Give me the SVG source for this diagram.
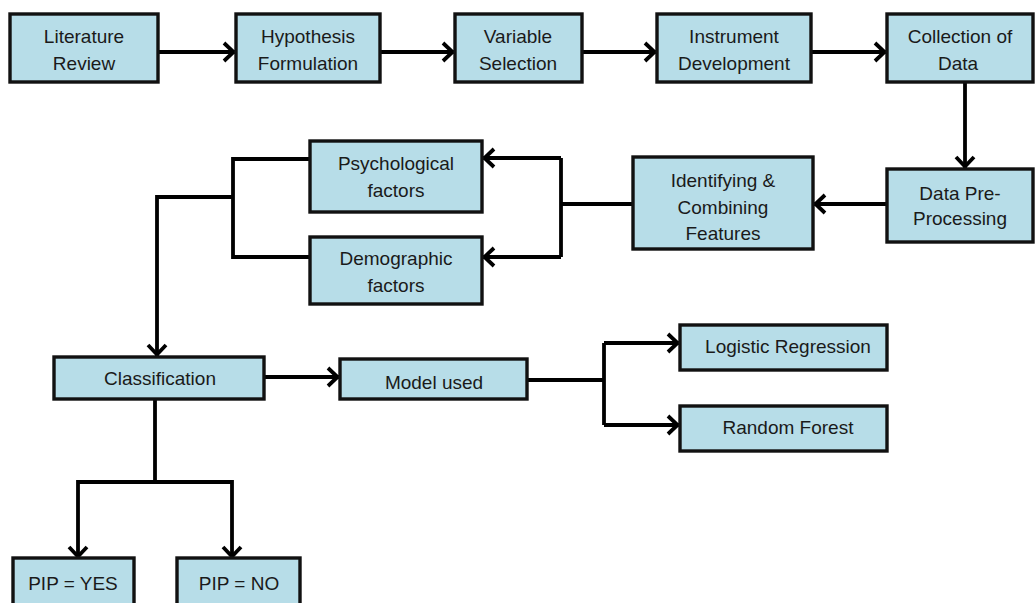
<svg xmlns="http://www.w3.org/2000/svg" width="1036" height="603" viewBox="0 0 1036 603">
<style>
.box{fill:#b7dde8;stroke:#111;stroke-width:3.4}
.t{font-family:"Liberation Sans",Arial,sans-serif;font-size:19px;fill:#1a1a1a;text-anchor:middle}
.c{fill:none;stroke:#000;stroke-width:3.8}
</style>
<defs>
<marker id="ah" markerUnits="userSpaceOnUse" markerWidth="26" markerHeight="26" viewBox="-15 -13 18 26" refX="0" refY="0" orient="auto">
<path d="M-11,-9 L-1.5,0 L-11,9" fill="none" stroke="#000" stroke-width="3.8" stroke-linejoin="miter"/>
</marker>
</defs>
<rect width="1036" height="603" fill="#fff"/>
<g id="connectors">
<path class="c" d="M158,52 H235" marker-end="url(#ah)"/>
<path class="c" d="M380,52 H454" marker-end="url(#ah)"/>
<path class="c" d="M582,52 H656" marker-end="url(#ah)"/>
<path class="c" d="M811,52 H886" marker-end="url(#ah)"/>
<path class="c" d="M965,82 V168" marker-end="url(#ah)"/>
<path class="c" d="M887,204 H814" marker-end="url(#ah)"/>
<path class="c" d="M633,204 H561"/>
<path class="c" d="M561,158 V257"/>
<path class="c" d="M561,158 H483" marker-end="url(#ah)"/>
<path class="c" d="M561,257 H483" marker-end="url(#ah)"/>
<path class="c" d="M310,159 H233 V257 H310"/>
<path class="c" d="M233,197 H157 V356" marker-end="url(#ah)"/>
<path class="c" d="M264,377 H339" marker-end="url(#ah)"/>
<path class="c" d="M527,380 H604"/>
<path class="c" d="M604,343 V425"/>
<path class="c" d="M604,343 H679" marker-end="url(#ah)"/>
<path class="c" d="M604,425 H679" marker-end="url(#ah)"/>
<path class="c" d="M155,399 V482"/>
<path class="c" d="M155,482 H78 V558" marker-end="url(#ah)"/>
<path class="c" d="M155,482 H232 V558" marker-end="url(#ah)"/>
</g>
<g id="n1"><rect class="box" x="10" y="14" width="148" height="68"/><text class="t" x="84" y="43">Literature</text><text class="t" x="84" y="70">Review</text></g>
<g id="n2"><rect class="box" x="236" y="14" width="144" height="68"/><text class="t" x="308" y="43">Hypothesis</text><text class="t" x="308" y="70">Formulation</text></g>
<g id="n3"><rect class="box" x="455" y="14" width="127" height="68"/><text class="t" x="518" y="43">Variable</text><text class="t" x="518" y="70">Selection</text></g>
<g id="n4"><rect class="box" x="657" y="14" width="154" height="68"/><text class="t" x="734" y="43">Instrument</text><text class="t" x="734" y="70">Development</text></g>
<g id="n5"><rect class="box" x="887" y="14" width="146" height="68"/><text class="t" x="960" y="43">Collection of</text><text class="t" x="958" y="70">Data</text></g>
<g id="n6"><rect class="box" x="887" y="169" width="146" height="73"/><text class="t" x="960" y="200">Data Pre-</text><text class="t" x="960" y="225">Processing</text></g>
<g id="n7"><rect class="box" x="633" y="157" width="180" height="92"/><text class="t" x="723" y="187">Identifying &amp;</text><text class="t" x="723" y="214">Combining</text><text class="t" x="723" y="240">Features</text></g>
<g id="n8"><rect class="box" x="310" y="141" width="172" height="71"/><text class="t" x="396" y="170">Psychological</text><text class="t" x="396" y="197">factors</text></g>
<g id="n9"><rect class="box" x="310" y="237" width="172" height="67"/><text class="t" x="396" y="265">Demographic</text><text class="t" x="396" y="292">factors</text></g>
<g id="n10"><rect class="box" x="54" y="357" width="210" height="42"/><text class="t" x="160" y="385">Classification</text></g>
<g id="n11"><rect class="box" x="340" y="359" width="187" height="40"/><text class="t" x="434" y="389">Model used</text></g>
<g id="n12"><rect class="box" x="680" y="325" width="207" height="45"/><text class="t" x="788" y="353">Logistic Regression</text></g>
<g id="n13"><rect class="box" x="680" y="406" width="207" height="45"/><text class="t" x="788" y="434">Random Forest</text></g>
<g id="n14"><rect class="box" x="13" y="558" width="121" height="60"/><text class="t" x="73" y="590">PIP = YES</text></g>
<g id="n15"><rect class="box" x="177" y="558" width="123" height="60"/><text class="t" x="239" y="590">PIP = NO</text></g>
</svg>
